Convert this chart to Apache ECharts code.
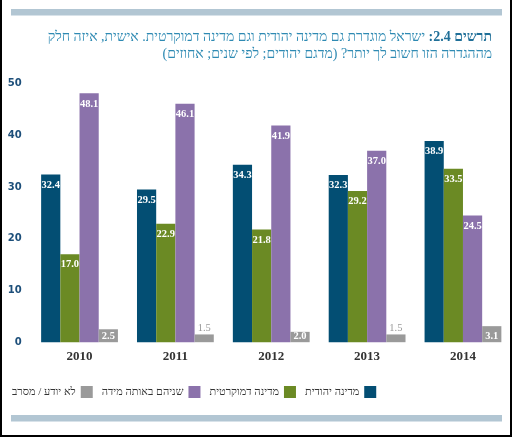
<!DOCTYPE html>
<html>
<head>
<meta charset="utf-8">
<script src="https://cdn.jsdelivr.net/npm/echarts@6/dist/echarts.min.js"></script>
<style>
html,body{margin:0;padding:0;background:#fff;}
#c{width:512px;height:437px;}
</style>
</head>
<body>
<div id="c" dir="rtl"></div>
<script>
var categories = ['2010', '2011', '2012', '2013', '2014'];
var seriesNames = ['מדינה יהודית', 'מדינה דמוקרטית', 'שניהם באותה מידה', 'לא יודע / מסרב'];
var jewishState = [32.4, 29.5, 34.3, 32.3, 38.9];
var democraticState = [17.0, 22.9, 21.8, 29.2, 33.5];
var bothEqually = [48.1, 46.1, 41.9, 37.0, 24.5];
var dontKnow = [2.5, 1.5, 2.0, 1.5, 3.1];
var yTicks = [0, 10, 20, 30, 40, 50];
var titleBold = 'תרשים 2.4:';
var titleLine1 = 'ישראל מוגדרת גם מדינה יהודית וגם מדינה דמוקרטית. אישית, איזה חלק';
var titleLine2 = 'מההגדרה הזו חשוב לך יותר? (מדגם יהודים; לפי שנים; אחוזים)';

var colors = ['#034e73', '#6b8a24', '#8b72ab', '#9a9a9a'];
var serif = '"Liberation Serif", "DejaVu Serif", serif';
var titleFontBold = 'bold 14px ' + serif;
var titleFont = '14px ' + serif;

// measure widths for placing the bold title prefix next to the rest of line 1
var mc = document.createElement('canvas');
mc.dir = 'rtl';
var mctx = mc.getContext('2d');
mctx.font = titleFontBold;
var boldW = mctx.measureText(titleBold).width;
mctx.font = titleFont;
var spaceW = mctx.measureText(' ').width;

var inLabel = {
  show: true, position: 'insideTop', distance: 5, color: '#fff',
  fontFamily: serif, fontWeight: 'bold', fontSize: 10.5,
  formatter: function (p) { return p.value.toFixed(1); }
};

function grayData(arr) {
  return arr.map(function (v) {
    if (v < 2) {
      return { value: v, label: { position: 'top', distance: 1, color: '#9a9a9a', fontWeight: 'normal' } };
    }
    return { value: v, label: { position: 'insideBottom', distance: 0 } };
  });
}

var dataArrays = [jewishState, democraticState, bothEqually, grayData(dontKnow)];

var series = dataArrays.map(function (d, i) {
  return {
    name: seriesNames[i], type: 'bar', data: d,
    barWidth: 19.2, barGap: '0%',
    itemStyle: { color: colors[i] },
    label: inLabel,
    emphasis: { disabled: true }
  };
});

var rightX = 492;
var chart = echarts.init(document.getElementById('c'), null, { renderer: 'canvas' });
chart.setOption({
  animation: false,
  color: colors,
  grid: { left: 31.6, right: 1.1, top: 83.5, bottom: 94.8, containLabel: false },
  xAxis: {
    type: 'category', data: categories,
    axisLine: { show: false }, axisTick: { show: false },
    axisLabel: { color: '#333', fontFamily: serif, fontWeight: 'bold', fontSize: 13, margin: 8 }
  },
  yAxis: {
    type: 'value', min: yTicks[0], max: yTicks[yTicks.length - 1], interval: 10,
    axisLine: { show: false }, axisTick: { show: false }, splitLine: { show: false },
    axisLabel: { color: '#1d4f7a', fontFamily: '"DejaVu Sans", sans-serif', fontWeight: 'bold', fontSize: 10, margin: 10 }
  },
  legend: {
    data: seriesNames.slice().reverse(),
    left: 12, top: 386, padding: 0, align: 'right',
    itemWidth: 12, itemHeight: 12, itemGap: 9,
    icon: 'rect',
    textStyle: { color: '#333', fontFamily: serif, fontSize: 11 }
  },
  graphic: [
    { type: 'rect', shape: { x: 11, y: 9, width: 491, height: 6.5 }, style: { fill: '#b2c6d3' } },
    { type: 'rect', shape: { x: 11, y: 415, width: 491, height: 6.5 }, style: { fill: '#b2c6d3' } },
    { type: 'rect', shape: { x: 0, y: 0, width: 2, height: 437 }, style: { fill: '#000' } },
    { type: 'rect', shape: { x: 510, y: 0, width: 2, height: 437 }, style: { fill: '#000' } },
    { type: 'rect', shape: { x: 0, y: 435, width: 512, height: 2 }, style: { fill: '#000' } },
    { type: 'text', x: rightX, y: 37, style: { text: titleBold, align: 'right', verticalAlign: 'middle', fill: '#1f6f98', font: titleFontBold } },
    { type: 'text', x: rightX - boldW - spaceW, y: 37, style: { text: titleLine1, align: 'right', verticalAlign: 'middle', fill: '#2e8ab3', font: titleFont } },
    { type: 'text', x: rightX, y: 54, style: { text: titleLine2, align: 'right', verticalAlign: 'middle', fill: '#2e8ab3', font: titleFont } }
  ],
  series: series
});
</script>
</body>
</html>
